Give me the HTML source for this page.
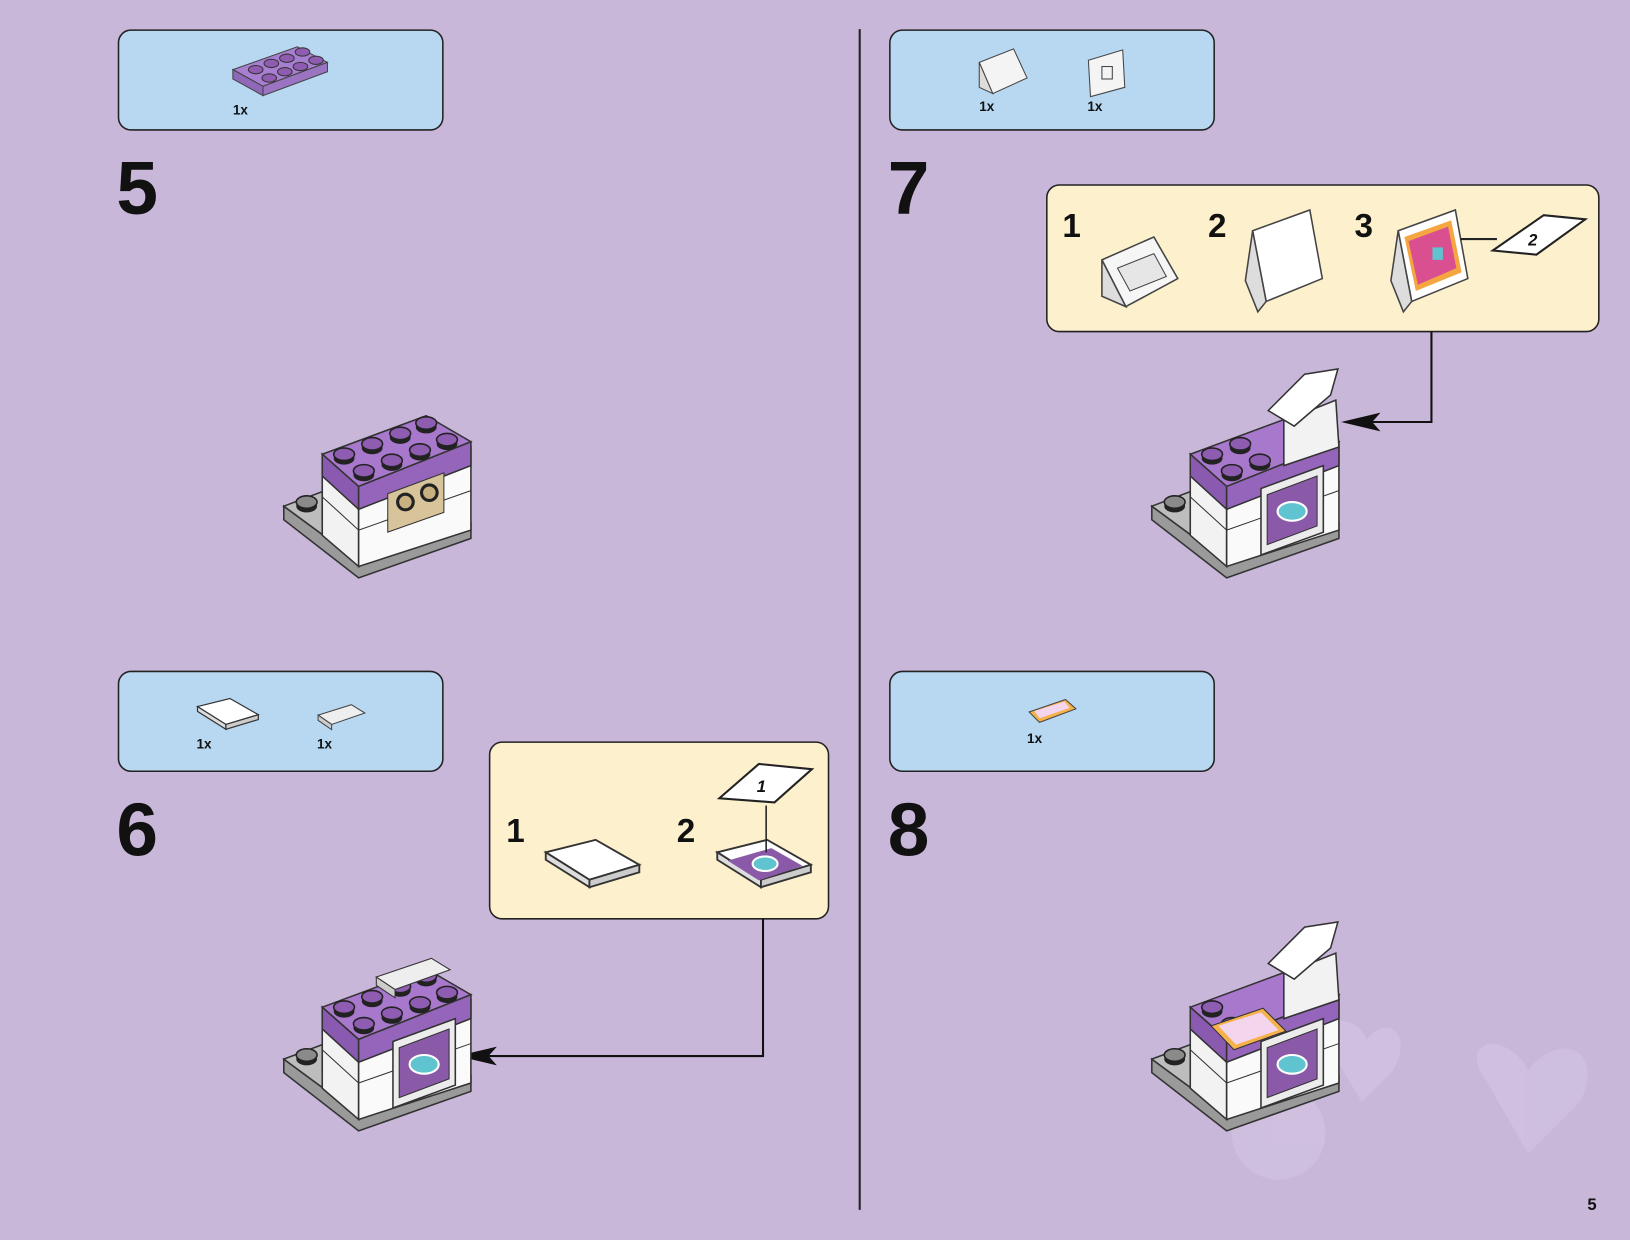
<!DOCTYPE html>
<html><head><meta charset="utf-8"><style>
html,body{margin:0;padding:0;background:#c9b7da;}
svg{display:block}
text{font-family:"Liberation Sans",Arial,sans-serif;font-weight:bold;fill:#111}
</style></head><body>
<svg width="1630" height="1240" viewBox="0 0 1568 1193" preserveAspectRatio="none" xmlns="http://www.w3.org/2000/svg">
<defs>
<g id="stud"><ellipse cx="0" cy="4" rx="10" ry="6" fill="#222"/><ellipse cx="0" cy="0" rx="10" ry="6" fill="#8e5cb0" stroke="#222" stroke-width="1.5"/></g>
<g id="gstud"><ellipse cx="0" cy="4" rx="10" ry="6" fill="#222"/><ellipse cx="0" cy="0" rx="10" ry="6" fill="#8a8a8a" stroke="#222" stroke-width="1.5"/></g>
<g id="model">
  <polygon points="273,487 345,540 453,503 453,518 345,556 273,500" fill="#9a9a9a" stroke="#333" stroke-width="1.5"/>
  <polygon points="273,487 310,473 310,500 345,525 345,540" fill="#bdbdbd" stroke="#333" stroke-width="1.5"/>
  <use href="#gstud" x="295" y="483"/>
  <polygon points="310,437 345,470 345,545 310,515" fill="#f2f2f2" stroke="#333" stroke-width="1.5"/>
  <polygon points="345,470 453,430 453,510 345,545" fill="#fafafa" stroke="#333" stroke-width="1.5"/>
  <line x1="310" y1="478" x2="345" y2="510" stroke="#333"/>
  <line x1="345" y1="510" x2="453" y2="472" stroke="#333"/>
  <polygon points="310,437 410,400 453,425 345,468" fill="#a878cc" stroke="#333" stroke-width="1.5"/>
  <polygon points="310,437 345,468 345,490 310,458" fill="#8a5ab0" stroke="#333" stroke-width="1.5"/>
  <polygon points="345,468 453,425 453,448 345,490" fill="#9564bb" stroke="#333" stroke-width="1.5"/>
</g>
<g id="studs8">
  <use href="#stud" x="331" y="437"/><use href="#stud" x="358" y="427"/><use href="#stud" x="385" y="417"/><use href="#stud" x="410" y="407"/>
  <use href="#stud" x="350" y="453"/><use href="#stud" x="377" y="443"/><use href="#stud" x="404" y="433"/><use href="#stud" x="430" y="423"/>
</g>
<g id="tile">
  <polygon points="0,10 40,0 75,20 35,32" fill="#fff" stroke="#333" stroke-width="1.5"/>
  <polygon points="0,10 35,32 35,38 0,16" fill="#ddd" stroke="#333" stroke-width="1.5"/>
  <polygon points="35,32 75,20 75,26 35,38" fill="#ccc" stroke="#333" stroke-width="1.5"/>
</g>
<g id="screen">
  <polygon points="0,0 60,-22 60,42 0,64" fill="#ececec" stroke="#333" stroke-width="1.5"/>
  <polygon points="6,6 54,-12 54,36 6,54" fill="#8a5aa8" stroke="#333"/>
  <ellipse cx="30" cy="22" rx="14" ry="9" fill="#5fc4d0" stroke="#fff" stroke-width="2"/>
</g>
</defs>

<line x1="827" y1="28" x2="827" y2="1164" stroke="#222" stroke-width="2"/>

<rect x="114" y="29" width="312" height="96" rx="12" fill="#b8d8f2" stroke="#222" stroke-width="1.5"/>
<rect x="856" y="29" width="312" height="96" rx="12" fill="#b8d8f2" stroke="#222" stroke-width="1.5"/>
<rect x="114" y="646" width="312" height="96" rx="12" fill="#b8d8f2" stroke="#222" stroke-width="1.5"/>
<rect x="856" y="646" width="312" height="96" rx="12" fill="#b8d8f2" stroke="#222" stroke-width="1.5"/>

<polygon points="224,67 286,45 315,60 253,83" fill="#a87fd0" stroke="#444"/>
<polygon points="224,67 253,83 253,92 224,76" fill="#9068b8" stroke="#444"/>
<polygon points="253,83 315,60 315,69 253,92" fill="#9a74c2" stroke="#444"/>
<g fill="#8e5cb0" stroke="#333">
<ellipse cx="246" cy="67" rx="7" ry="4"/><ellipse cx="261" cy="61" rx="7" ry="4"/><ellipse cx="276" cy="56" rx="7" ry="4"/><ellipse cx="291" cy="50" rx="7" ry="4"/>
<ellipse cx="259" cy="75" rx="7" ry="4"/><ellipse cx="274" cy="69" rx="7" ry="4"/><ellipse cx="289" cy="64" rx="7" ry="4"/><ellipse cx="304" cy="58" rx="7" ry="4"/>
</g>
<text x="224" y="110" font-size="13">1x</text>

<polygon points="942,60 975,47 988,75 955,90" fill="#f4f4f4" stroke="#444"/>
<polygon points="942,60 955,90 942,84" fill="#ddd" stroke="#444"/>
<text x="942" y="107" font-size="13">1x</text>
<polygon points="1047,58 1080,48 1082,84 1049,93" fill="#f4f4f4" stroke="#444"/>
<rect x="1060" y="64" width="10" height="12" fill="none" stroke="#444"/>
<text x="1046" y="107" font-size="13">1x</text>

<g transform="translate(190,672) scale(0.78)"><use href="#tile"/></g>
<text x="189" y="720" font-size="13">1x</text>
<polygon points="306,688 338,678 351,686 319,697" fill="#eee" stroke="#444"/>
<polygon points="306,688 319,697 319,702 306,693" fill="#ccc" stroke="#444"/>
<text x="305" y="720" font-size="13">1x</text>

<polygon points="990,685 1025,673 1035,682 1000,695" fill="#f6b24a" stroke="#444"/>
<polygon points="995,684 1024,675 1029,681 1000,691" fill="#f3d6ee"/>
<text x="988" y="715" font-size="13">1x</text>

<text x="112" y="206" font-size="72">5</text>
<text x="112" y="823" font-size="72">6</text>
<text x="854" y="206" font-size="72">7</text>
<text x="854" y="823" font-size="72">8</text>
<text x="1527" y="1164" font-size="16">5</text>

<rect x="1007" y="178" width="531" height="141" rx="12" fill="#fdf0cc" stroke="#222" stroke-width="1.5"/>
<rect x="471" y="714" width="326" height="170" rx="12" fill="#fdf0cc" stroke="#222" stroke-width="1.5"/>
<text x="1022" y="228" font-size="32">1</text>
<text x="1162" y="228" font-size="32">2</text>
<text x="1303" y="228" font-size="32">3</text>
<text x="487" y="810" font-size="32">1</text>
<text x="651" y="810" font-size="32">2</text>

<polygon points="1060,250 1110,228 1133,268 1083,295" fill="#f6f6f6" stroke="#444" stroke-width="1.5"/>
<polygon points="1060,250 1083,295 1060,285" fill="#ddd" stroke="#444" stroke-width="1.5"/>
<polygon points="1075,258 1110,244 1122,266 1087,280" fill="#e6e6e6" stroke="#444"/>
<polygon points="1205,222 1260,202 1272,268 1218,290" fill="#fff" stroke="#444" stroke-width="1.5"/>
<polygon points="1198,270 1205,222 1218,290 1210,300" fill="#ddd" stroke="#444" stroke-width="1.5"/>
<polygon points="1345,222 1400,202 1412,268 1358,290" fill="#fff" stroke="#444" stroke-width="1.5"/>
<polygon points="1351,228 1396,212 1406,262 1362,280" fill="#f6a640"/>
<polygon points="1355,232 1393,218 1401,258 1364,274" fill="#d94f8f"/>
<rect x="1378" y="238" width="10" height="12" fill="#5fc4d0"/>
<polygon points="1338,270 1345,222 1358,290 1350,300" fill="#ddd" stroke="#444" stroke-width="1.5"/>
<line x1="1405" y1="230" x2="1440" y2="230" stroke="#222" stroke-width="2"/>
<polygon points="1436,241 1485,207 1525,211 1478,245" fill="#fff" stroke="#222" stroke-width="2"/>
<text x="1470" y="236" font-size="16" font-weight="normal" font-style="italic">2</text>

<g transform="translate(525,808)"><use href="#tile" transform="scale(1.2)"/></g>
<g transform="translate(690,808)"><use href="#tile" transform="scale(1.2)"/></g>
<polygon points="700,828 742,816 772,833 730,847" fill="#8a5aa8"/>
<ellipse cx="736" cy="831" rx="12" ry="7" fill="#5fc4d0" stroke="#fff" stroke-width="2"/>
<line x1="737" y1="775" x2="737" y2="820" stroke="#222" stroke-width="1.5"/>
<polygon points="692,768 730,735 781,740 745,772" fill="#fff" stroke="#222" stroke-width="2"/>
<text x="728" y="762" font-size="16" font-weight="normal" font-style="italic">1</text>

<polyline points="734,884 734,1016 470,1016" fill="none" stroke="#111" stroke-width="2"/>
<polygon points="440,1016 478,1007 470,1016 478,1025" fill="#111"/>
<polyline points="1377,319 1377,406 1320,406" fill="none" stroke="#111" stroke-width="2"/>
<polygon points="1290,406 1328,397 1320,406 1328,415" fill="#111"/>

<use href="#model"/>
<use href="#studs8"/>
<polygon points="373,475 427,455 427,493 373,512" fill="#d8c49a" stroke="#333"/>
<circle cx="390" cy="483" r="9" fill="#222"/><circle cx="390" cy="483" r="6" fill="#c9b080"/>
<circle cx="413" cy="474" r="9" fill="#222"/><circle cx="413" cy="474" r="6" fill="#c9b080"/>

<g transform="translate(0,532)">
<use href="#model"/><use href="#studs8"/>
<g transform="translate(378,470)"><use href="#screen"/></g>
<polygon points="362,408 415,390 433,401 380,420" fill="#eee" stroke="#333"/>
<polygon points="362,408 380,420 380,428 362,416" fill="#ccc" stroke="#333"/>
</g>

<g transform="translate(835,0)">
<use href="#model"/>
<use href="#stud" x="331" y="437"/><use href="#stud" x="358" y="427"/><use href="#stud" x="350" y="453"/><use href="#stud" x="377" y="443"/>
<g transform="translate(378,470)"><use href="#screen"/></g>
<polygon points="400,405 450,385 453,430 400,448" fill="#f2f2f2" stroke="#333" stroke-width="1.5"/>
<polygon points="385,395 420,360 452,355 445,380 410,410" fill="#fff" stroke="#333" stroke-width="1.5"/>
</g>

<g opacity="0.2" fill="#ece2f4">
<path d="M1430,1040 C1400,1000 1450,990 1470,1030 C1500,990 1545,1010 1520,1060 L1470,1110 Z"/>
<path d="M1280,1010 C1260,980 1300,970 1315,1000 C1335,975 1360,995 1340,1030 L1310,1060 Z"/>
<circle cx="1230" cy="1090" r="45"/>
</g>
<g transform="translate(835,532)">
<use href="#model"/>
<use href="#stud" x="331" y="437"/><use href="#stud" x="350" y="453"/>
<g transform="translate(378,470)"><use href="#screen"/></g>
<polygon points="400,405 450,385 453,430 400,448" fill="#f2f2f2" stroke="#333" stroke-width="1.5"/>
<polygon points="385,395 420,360 452,355 445,380 410,410" fill="#fff" stroke="#333" stroke-width="1.5"/>
<polygon points="330,455 380,438 402,460 352,478" fill="#f6b24a" stroke="#333"/>
<polygon points="337,455 378,442 395,459 354,473" fill="#f3d6ee"/>
</g>
</svg>
</body></html>
